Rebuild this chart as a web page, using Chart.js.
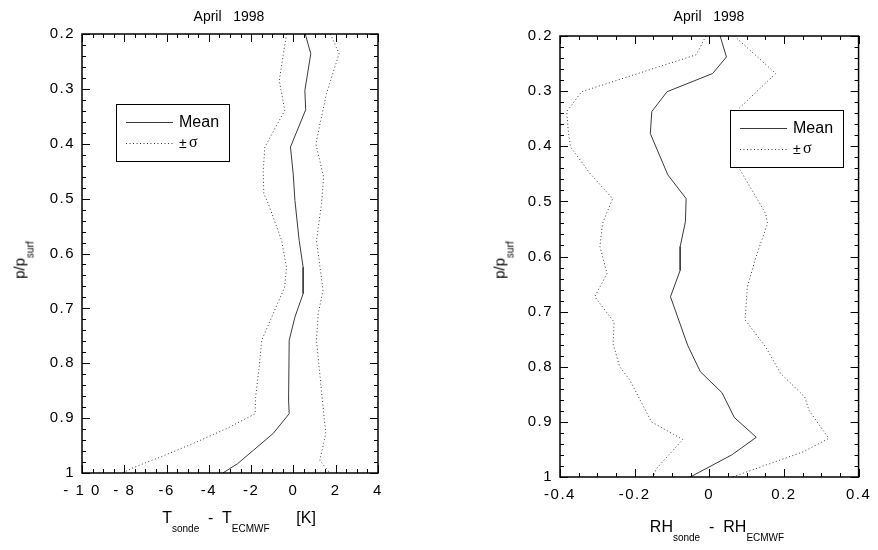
<!DOCTYPE html>
<html>
<head>
<meta charset="utf-8">
<script src="https://cdn.jsdelivr.net/npm/chart.js@4"></script>
<style>
  body { margin: 0; background: #fff; font-family: "Liberation Sans", Arial, sans-serif; }
  #wrap { position: relative; width: 878px; height: 550px; overflow: hidden; }
  canvas { position: absolute; top: 0; }
  .txt { position: absolute; color: #000; white-space: pre; line-height: 1; }
  .title { font-size: 14px; transform: translateX(-50%); }
  .ytitle { font-size: 15px; transform: translate(-50%, -50%) rotate(-90deg); }
  .xtitle { font-size: 16px; transform: translateX(-50%); }
  .sub { font-size: 10px; position: relative; top: 9px; }
</style>
</head>
<body>
<div id="wrap">
  <canvas id="tChart" width="440" height="550" style="left:0"></canvas>
  <canvas id="rhChart" width="438" height="550" style="left:440px"></canvas>
  <div class="txt title" style="left:229px; top:9px">April   1998</div>
  <div class="txt title" style="left:709px; top:9px">April   1998</div>
  <div class="txt ytitle" style="left:19px; top:260px">p/p<span class="sub">surf</span></div>
  <div class="txt ytitle" style="left:499px; top:260px">p/p<span class="sub">surf</span></div>
  <div class="txt xtitle" style="left:239px; top:510px">T<span class="sub">sonde</span>  -  T<span class="sub">ECMWF</span>      [K]</div>
  <div class="txt xtitle" style="left:717px; top:519px">RH<span class="sub">sonde</span>  -  RH<span class="sub">ECMWF</span></div>
</div>
<script>
// temperature difference profiles [K] vs p/psurf
const tMeanX = [0.56, 0.82, 0.54, 0.58, -0.14, -0.01, 0.07, 0.27, 0.46, 0.46, 0.07, -0.2, -0.23, -0.2, -0.96, -2.64, -3.34];
const tMeanP = [0.2, 0.236, 0.303, 0.338, 0.406, 0.455, 0.503, 0.576, 0.625, 0.673, 0.716, 0.758, 0.867, 0.892, 0.928, 0.983, 1.0];
const tLowX = [-0.33, -0.67, -0.41, -1.35, -1.43, -1.4, -1.19, -0.56, -0.33, -0.41, -0.96, -1.5, -1.62, -1.79, -1.81, -3.16, -4.73, -6.3, -7.56, -8.1];
const tLowP = [0.2, 0.285, 0.339, 0.406, 0.449, 0.491, 0.509, 0.576, 0.625, 0.661, 0.71, 0.758, 0.807, 0.862, 0.892, 0.919, 0.946, 0.971, 0.99, 1.0];
const tHighX = [1.75, 2.16, 1.56, 1.06, 1.43, 1.33, 1.09, 1.4, 1.17, 1.09, 1.37, 1.53, 1.25, 1.72];
const tHighP = [0.2, 0.236, 0.309, 0.4, 0.461, 0.509, 0.576, 0.667, 0.71, 0.758, 0.867, 0.928, 0.977, 1.0];

// relative humidity difference profiles
const rhMeanX = [0.029, 0.046, 0.009, -0.113, -0.154, -0.158, -0.111, -0.062, -0.064, -0.078, -0.078, -0.104, -0.058, -0.024, 0.034, 0.067, 0.126, 0.06, -0.051];
const rhMeanP = [0.2, 0.238, 0.268, 0.301, 0.337, 0.377, 0.452, 0.495, 0.537, 0.582, 0.625, 0.673, 0.761, 0.809, 0.847, 0.892, 0.928, 0.96, 1.0];
const rhLowX = [-0.009, -0.035, -0.342, -0.382, -0.378, -0.372, -0.32, -0.259, -0.286, -0.293, -0.274, -0.307, -0.255, -0.258, -0.24, -0.213, -0.155, -0.071, -0.142, -0.15];
const rhLowP = [0.2, 0.234, 0.301, 0.337, 0.371, 0.401, 0.449, 0.495, 0.54, 0.582, 0.631, 0.673, 0.719, 0.758, 0.8, 0.824, 0.9, 0.932, 0.985, 1.0];
const rhHighX = [0.067, 0.178, 0.08, 0.075, 0.08, 0.151, 0.156, 0.125, 0.102, 0.096, 0.151, 0.191, 0.256, 0.267, 0.32, 0.253, 0.062];
const rhHighP = [0.2, 0.268, 0.331, 0.38, 0.44, 0.522, 0.54, 0.601, 0.655, 0.715, 0.764, 0.812, 0.855, 0.879, 0.93, 0.954, 1.0];

const pTicks = ["0.2", "0.3", "0.4", "0.5", "0.6", "0.7", "0.8", "0.9", "1"];
const tTicks = {"-10": "- 1 0", "-8": "- 8", "-6": "-6", "-4": "-4", "-2": "-2", "0": "0", "2": "2", "4": "4"};
const rhTicks = {"-0.4": "-0.4", "-0.2": "-0.2", "0": "0", "0.2": "0.2", "0.4": "0.4"};

const lineColor = "#3a3a3a";
const tickFont = { family: "Liberation Sans", size: 15 };

function pts(xs, ps) {
  return xs.map((x, i) => ({ x: x, y: ps[i] }));
}

function ds(label, xs, ps, dotted) {
  return {
    label: label,
    data: pts(xs, ps),
    borderColor: lineColor,
    borderWidth: 1,
    borderDash: dotted ? [1, 2.5] : [],
    pointRadius: 0,
    tension: 0,
    fill: false
  };
}

// box with inward ticks on all four sides + in-plot legend
const frame = {
  id: "frame",
  beforeDraw(chart) {
    chart.ctx.letterSpacing = "1.5px"; // wide spacing of the tick labels
  },
  afterDraw(chart, args, o) {
    const ctx = chart.ctx, a = chart.chartArea;
    const xs = chart.scales.x, ys = chart.scales.y;
    ctx.letterSpacing = "0px";
    ctx.save();
    ctx.strokeStyle = "#000";
    ctx.lineWidth = 1;
    ctx.beginPath();
    let n = Math.round((xs.max - xs.min) / o.xMinor);
    for (let k = 0; k <= n; k++) {
      const v = xs.min + k * o.xMinor;
      const r = v / o.xMajor;
      const len = Math.abs(r - Math.round(r)) < 1e-6 ? 8 : 4;
      const px = Math.round(xs.getPixelForValue(v)) + 0.5;
      ctx.moveTo(px, a.bottom); ctx.lineTo(px, a.bottom - len);
      ctx.moveTo(px, a.top); ctx.lineTo(px, a.top + len);
    }
    n = Math.round((ys.max - ys.min) / o.yMinor);
    for (let k = 0; k <= n; k++) {
      const v = ys.min + k * o.yMinor;
      const r = v / o.yMajor;
      const len = Math.abs(r - Math.round(r)) < 1e-6 ? 8 : 4;
      const py = Math.round(ys.getPixelForValue(v)) + 0.5;
      ctx.moveTo(a.left, py); ctx.lineTo(a.left + len, py);
      ctx.moveTo(a.right, py); ctx.lineTo(a.right - len, py);
    }
    ctx.stroke();
    ctx.lineWidth = 1.5;
    ctx.strokeRect(a.left, a.top, a.right - a.left, a.bottom - a.top);

    // legend
    const L = o.legend;
    ctx.fillStyle = "#fff";
    ctx.fillRect(L.x, L.y, L.w, L.h);
    ctx.lineWidth = 1;
    ctx.strokeStyle = "#000";
    ctx.strokeRect(L.x + 0.5, L.y + 0.5, L.w, L.h);
    ctx.strokeStyle = lineColor;
    ctx.beginPath();
    ctx.moveTo(L.x + 10, L.y + 18.5); ctx.lineTo(L.x + 57, L.y + 18.5);
    ctx.stroke();
    ctx.setLineDash([1, 2.5]);
    ctx.beginPath();
    ctx.moveTo(L.x + 10, L.y + 39.5); ctx.lineTo(L.x + 57, L.y + 39.5);
    ctx.stroke();
    ctx.setLineDash([]);
    ctx.fillStyle = "#000";
    ctx.textBaseline = "middle";
    ctx.font = "16px 'Liberation Sans'";
    ctx.fillText("Mean", L.x + 63, L.y + 19);
    ctx.font = "14px 'Liberation Sans'";
    ctx.fillText("\u00b1", L.x + 63, L.y + 40);
    ctx.font = "16px 'Liberation Serif'";
    ctx.fillText("\u03c3", L.x + 73, L.y + 39);
    ctx.restore();
  }
};

function makeChart(id, datasets, xMin, xMax, xStep, xLabels, pad, frameOpts) {
  return new Chart(document.getElementById(id), {
    type: "line",
    data: { datasets: datasets },
    options: {
      responsive: false,
      animation: false,
      layout: { padding: pad },
      plugins: { legend: { display: false }, tooltip: { enabled: false }, frame: frameOpts },
      scales: {
        x: {
          type: "linear",
          min: xMin, max: xMax,
          grid: { display: false, drawTicks: false },
          border: { display: false },
          afterFit: (s) => { s.height = 30; },
          ticks: {
            stepSize: xStep,
            padding: 9,
            color: "#000",
            font: tickFont,
            maxRotation: 0,
            callback: (v) => xLabels[String(Math.round(v * 1000) / 1000)]
          }
        },
        y: {
          type: "linear",
          reverse: true,
          min: 0.2, max: 1,
          grid: { display: false, drawTicks: false },
          border: { display: false },
          afterFit: (s) => { s.width = 60; },
          ticks: {
            stepSize: 0.1,
            padding: 7,
            color: "#000",
            font: tickFont,
            callback: (v) => pTicks[Math.round((v - 0.2) * 10)]
          }
        }
      }
    },
    plugins: [frame]
  });
}

makeChart("tChart",
  [ds("Mean", tMeanX, tMeanP, false), ds("-sigma", tLowX, tLowP, true), ds("+sigma", tHighX, tHighP, true)],
  -10, 4, 2, tTicks,
  { left: 22, right: 62, top: 34, bottom: 47 },
  { xMinor: 0.5, xMajor: 2, yMinor: 0.02, yMajor: 0.1, legend: { x: 116, y: 104, w: 113, h: 57 } });

makeChart("rhChart",
  [ds("Mean", rhMeanX, rhMeanP, false), ds("-sigma", rhLowX, rhLowP, true), ds("+sigma", rhHighX, rhHighP, true)],
  -0.4, 0.4, 0.2, rhTicks,
  { left: 60, right: 19, top: 36, bottom: 43 },
  { xMinor: 0.05, xMajor: 0.2, yMinor: 0.02, yMajor: 0.1, legend: { x: 290, y: 110, w: 113, h: 57 } });
</script>
</body>
</html>
